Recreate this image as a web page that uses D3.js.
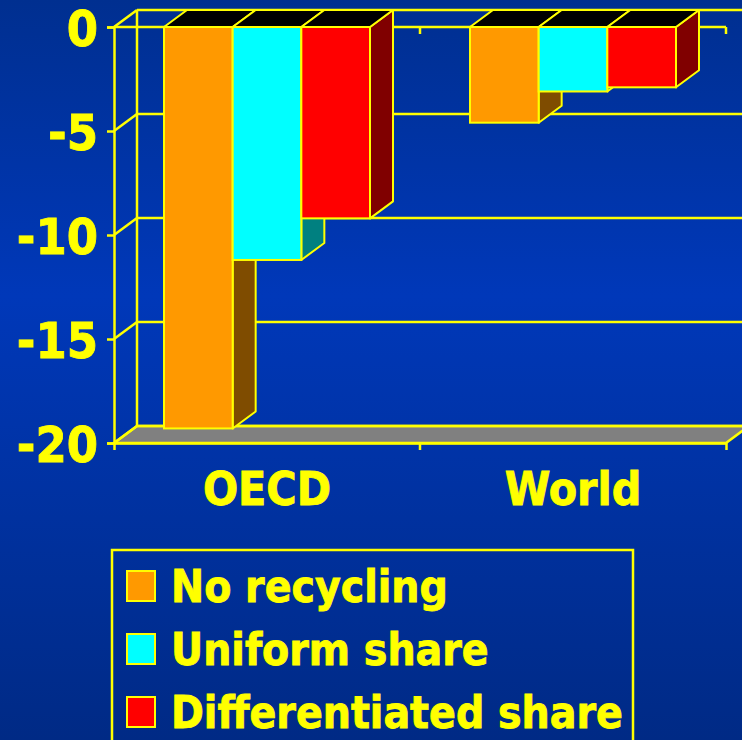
<!DOCTYPE html>
<html>
<head>
<meta charset="utf-8">
<script src="https://cdn.jsdelivr.net/npm/d3@7"></script>
<style>
  html, body { margin: 0; padding: 0; background: #00329a; }
  svg { display: block; }
  .lbl { font-family: "DejaVu Sans Condensed", "DejaVu Sans", sans-serif; font-stretch: condensed; font-weight: bold; fill: #ffff00; stroke: #ffff00; stroke-width: 0.8px; }
</style>
</head>
<body>
<div id="chart"></div>
<script>
// data
const categories = ['OECD', 'World'];
const series = ['No recycling', 'Uniform share', 'Differentiated share'];
const noRecycling = [-19.3, -4.6];
const uniformShare = [-11.2, -3.1];
const differentiatedShare = [-9.2, -2.9];
const yTicks = [0, -5, -10, -15, -20];

const colors = ['#ff9900', '#00ffff', '#ff0000'];
const sideColors = ['#7f4c00', '#008080', '#800000'];
const yellow = '#ffff00';

const w = 742, h = 740;
const plotLeft = 114, plotRight = 726, plotTop = 27, plotBottom = 443;
const dx = 23, dy = -17; // depth of the 3d box
const lw = 2.5;

const values = [noRecycling, uniformShare, differentiatedShare];

const svg = d3.select('#chart').append('svg')
  .attr('width', w).attr('height', h);

// background gradient
const grad = svg.append('defs').append('linearGradient')
  .attr('id', 'bg').attr('x1', 0).attr('y1', 0).attr('x2', 0).attr('y2', 1);
grad.append('stop').attr('offset', '0%').attr('stop-color', '#002f90');
grad.append('stop').attr('offset', '40%').attr('stop-color', '#0038b9');
grad.append('stop').attr('offset', '100%').attr('stop-color', '#002a85');
svg.append('rect').attr('width', w).attr('height', h).attr('fill', 'url(#bg)');

//Scales
const y = d3.scaleLinear().domain([-20, 0]).range([plotBottom, plotTop]);
const x0 = d3.scaleBand().domain(categories).range([plotLeft, plotRight]);
const x1 = d3.scaleBand().domain(series).range([50, 256]);

const edges = categories.map(c => x0(c)).concat([plotRight]);

//Floor
svg.append('polygon')
  .attr('points', [[plotLeft, plotBottom], [plotRight, plotBottom], [plotRight + dx, plotBottom + dy], [plotLeft + dx, plotBottom + dy]].join(' '))
  .attr('fill', '#808080')
  .attr('stroke', yellow).attr('stroke-width', lw).attr('stroke-linejoin', 'round');

//Back wall gridlines
svg.selectAll('line.grid')
  .data(yTicks)
  .enter().append('line')
  .attr('class', 'grid')
  .attr('x1', plotLeft + dx).attr('x2', plotRight + dx)
  .attr('y1', d => y(d) + dy).attr('y2', d => y(d) + dy)
  .attr('stroke', yellow).attr('stroke-width', lw);

//Side wall
svg.selectAll('line.diag')
  .data(yTicks)
  .enter().append('line')
  .attr('class', 'diag')
  .attr('x1', plotLeft).attr('y1', d => y(d))
  .attr('x2', plotLeft + dx).attr('y2', d => y(d) + dy)
  .attr('stroke', yellow).attr('stroke-width', lw);

svg.append('line')
  .attr('x1', plotLeft + dx).attr('x2', plotLeft + dx)
  .attr('y1', y(0) + dy).attr('y2', y(-20) + dy)
  .attr('stroke', yellow).attr('stroke-width', lw);

//Category axis at zero
svg.append('line')
  .attr('x1', plotLeft).attr('x2', plotRight)
  .attr('y1', y(0)).attr('y2', y(0))
  .attr('stroke', yellow).attr('stroke-width', lw);
svg.selectAll('line.ztick')
  .data(edges.slice(1))
  .enter().append('line')
  .attr('class', 'ztick')
  .attr('x1', d => d).attr('x2', d => d)
  .attr('y1', y(0)).attr('y2', y(0) + 7)
  .attr('stroke', yellow).attr('stroke-width', lw);

//Bars
const groups = svg.selectAll('g.cat')
  .data(categories)
  .enter().append('g')
  .attr('class', 'cat')
  .attr('transform', d => `translate(${x0(d)},0)`);

series.forEach((s, si) => {
  groups.each(function(c, ci) {
    const g = d3.select(this);
    const v = values[si][ci];
    const xa = x1(s), xb = x1(s) + x1.bandwidth();
    const y0 = y(0), yb = y(v);
    // side face
    g.append('polygon')
      .attr('points', [[xb, y0], [xb + dx, y0 + dy], [xb + dx, yb + dy], [xb, yb]].join(' '))
      .attr('fill', sideColors[si])
      .attr('stroke', yellow).attr('stroke-width', 2).attr('stroke-linejoin', 'round');
    // top face
    g.append('polygon')
      .attr('points', [[xa, y0], [xa + dx, y0 + dy], [xb + dx, y0 + dy], [xb, y0]].join(' '))
      .attr('fill', '#000')
      .attr('stroke', yellow).attr('stroke-width', 2).attr('stroke-linejoin', 'round');
    // front
    g.append('rect')
      .attr('x', xa).attr('y', y0)
      .attr('width', x1.bandwidth()).attr('height', yb - y0)
      .attr('fill', colors[si])
      .attr('stroke', yellow).attr('stroke-width', 2);
  });
});

//Axes
const yAxis = d3.axisLeft(y).tickValues(yTicks).tickSize(7).tickPadding(9).tickFormat(d3.format('d'));
const ya = svg.append('g').attr('transform', `translate(${plotLeft},0)`).call(yAxis);
ya.select('.domain').attr('stroke', yellow).attr('stroke-width', lw);
ya.selectAll('.tick line').attr('stroke', yellow).attr('stroke-width', lw);
ya.selectAll('.tick text').attr('class', 'lbl').attr('font-size', 50).attr('dy', '0.36em')
  .text(d => d === 0 ? '0' : '-' + Math.abs(d));

const xAxis = d3.axisBottom(x0).tickSizeInner(0).tickSizeOuter(7).tickPadding(29);
const xa = svg.append('g').attr('transform', `translate(0,${plotBottom})`).call(xAxis);
xa.select('.domain').attr('stroke', yellow).attr('stroke-width', lw).attr('fill', 'none');
xa.selectAll('.tick text').attr('class', 'lbl').attr('font-size', 46);
xa.selectAll('line.btick')
  .data(edges.slice(1, -1))
  .enter().append('line')
  .attr('x1', d => d).attr('x2', d => d)
  .attr('y1', 0).attr('y2', 7)
  .attr('stroke', yellow).attr('stroke-width', lw);

//Legend
const legend = svg.append('g');
legend.append('rect')
  .attr('x', 112).attr('y', 550).attr('width', 521).attr('height', 220)
  .attr('fill', 'none').attr('stroke', yellow).attr('stroke-width', lw);

const items = legend.selectAll('g.item')
  .data(series)
  .enter().append('g')
  .attr('transform', (d, i) => `translate(127,${571 + i * 63})`);
items.append('rect')
  .attr('width', 28).attr('height', 30)
  .attr('fill', (d, i) => colors[i])
  .attr('stroke', yellow).attr('stroke-width', 2);
items.append('text')
  .attr('class', 'lbl')
  .attr('x', 44).attr('y', 31)
  .attr('font-size', 44)
  .text(d => d);
</script>
</body>
</html>
